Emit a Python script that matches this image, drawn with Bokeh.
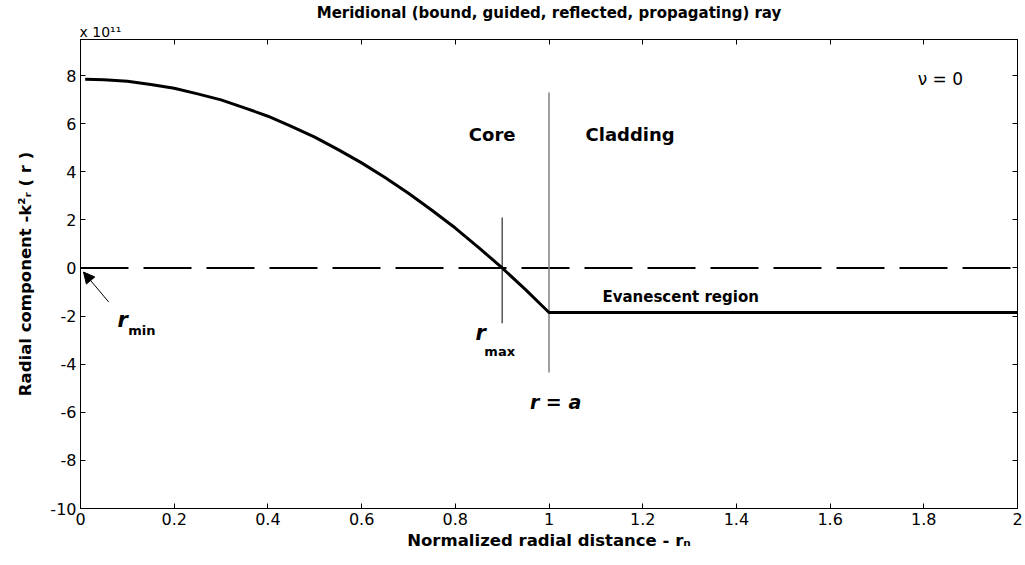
from bokeh.plotting import figure
from bokeh.models import (Range1d, LinearAxis, FixedTicker, Label, Arrow, NormalHead, Title)
from bokeh.embed import file_html
from bokeh.resources import INLINE

# ---- data (values in units of 1e11) ----
r_n = [0.01, 0.05, 0.1, 0.15, 0.2, 0.25, 0.3, 0.35, 0.4, 0.45, 0.5, 0.55, 0.6,
       0.65, 0.7, 0.75, 0.8, 0.85, 0.9, 0.95, 1.0, 2.0]
kr2 = [7.85, 7.83, 7.76, 7.63, 7.47, 7.24, 6.99, 6.66, 6.31, 5.89, 5.44, 4.92, 4.37,
       3.76, 3.11, 2.40, 1.66, 0.85, 0.0, -0.90, -1.85, -1.85]
zero_x = [0.0, 2.0]
zero_y = [0.0, 0.0]
rmax_x = [0.9, 0.9]
rmax_y = [2.1, -2.3]
ra_x = [1.0, 1.0]
ra_y = [7.3, -4.35]

x_ticks = [0, 0.2, 0.4, 0.6, 0.8, 1.0, 1.2, 1.4, 1.6, 1.8, 2.0]
x_tick_labels = ["0", "0.2", "0.4", "0.6", "0.8", "1", "1.2", "1.4", "1.6", "1.8", "2"]
y_ticks = [-10, -8, -6, -4, -2, 0, 2, 4, 6, 8]
y_tick_labels = ["-10", "-8", "-6", "-4", "-2", "0", "2", "4", "6", "8"]

FONT = "DejaVu Sans"

p = figure(frame_width=937, frame_height=469,
           x_range=Range1d(0, 2), y_range=Range1d(-10, 9.5),
           output_backend="svg", toolbar_location=None,
           min_border_left=80, min_border_right=7,
           min_border_top=39, min_border_bottom=49)
p.background_fill_color = "white"
p.border_fill_color = "white"
p.outline_line_color = "black"
p.outline_line_width = 1
p.xgrid.visible = False
p.ygrid.visible = False

def style_axis(ax, ticks, labels, show_labels=True):
    ax.ticker = FixedTicker(ticks=ticks)
    ax.major_label_overrides = {t: l for t, l in zip(ticks, labels)}
    ax.major_tick_in = 5
    ax.major_tick_out = 0
    ax.minor_tick_line_color = None
    ax.axis_line_color = "black"
    ax.major_tick_line_color = "black"
    ax.major_label_text_font = FONT
    ax.major_label_text_font_size = "16px" if show_labels else "0px"
    ax.major_label_text_color = "black"
    ax.major_label_standoff = 4

xa = p.xaxis[0]
ya = p.yaxis[0]
style_axis(xa, x_ticks, x_tick_labels)
style_axis(ya, y_ticks, y_tick_labels)
xa.axis_label = "Normalized radial distance - r\u2099"
ya.axis_label = "Radial component -k\u00b2\u1d63 ( r )"
for ax in (xa, ya):
    ax.axis_label_text_font = FONT
    ax.axis_label_text_font_size = "16.5px"
    ax.axis_label_text_font_style = "bold"
    ax.axis_label_text_color = "black"
xa.axis_label_standoff = 3
ya.axis_label_standoff = 12

top = LinearAxis()
right = LinearAxis()
style_axis(top, x_ticks, [""] * len(x_ticks), show_labels=False)
style_axis(right, y_ticks, [""] * len(y_ticks), show_labels=False)
top.major_label_standoff = 0
right.major_label_standoff = 0
p.add_layout(top, "above")
p.add_layout(right, "right")

# title rows above the frame
p.add_layout(Title(text="x 10\u00b9\u00b9", align="left", text_font=FONT,
                   text_font_size="14px", text_font_style="normal", text_color="black",
                   standoff=0, offset=-1), "above")
p.add_layout(Title(text="Meridional (bound, guided, reflected, propagating) ray",
                   align="center", text_font=FONT, text_font_size="15px",
                   text_font_style="bold", text_color="black", standoff=0), "above")

# ---- lines ----
p.line(zero_x, zero_y, line_color="black", line_width=2, line_dash="48 15")
p.line(rmax_x, rmax_y, line_color="black", line_width=1)
p.line(ra_x, ra_y, line_color="#808080", line_width=1.5)
p.line(r_n, kr2, line_color="black", line_width=3)

# ---- annotations ----
def lab(x, y, text, size, style="normal", align="left"):
    l = Label(x=x, y=y, text=text, text_font=FONT, text_font_size=size,
              text_font_style=style, text_color="black",
              text_align=align, text_baseline="alphabetic")
    p.add_layout(l)
    return l

lab(0.9285, 5.57, "Core", "18px", "bold", align="right")
lab(1.078, 5.57, "Cladding", "18px", "bold")
lab(1.114, -1.2, "Evanescent region", "15px", "bold")
lab(1.787, 7.86, "\u03bd = 0", "17px", "normal")

# r_min
lab(0.079, -2.16, "r", "21px", "bold italic")
lab(0.102, -2.58, "min", "13px", "bold")
# r_max
lab(0.843, -2.7, "r", "21px", "bold italic")
lab(0.862, -3.49, "max", "13px", "bold")
# r = a
lab(1.014, -5.57, "r = a", "19px", "bold italic", align="center")

p.add_layout(Arrow(end=NormalHead(size=11, fill_color="black", line_color="black"),
                   x_start=0.06, y_start=-1.41, x_end=0.0064, y_end=-0.17,
                   line_color="black", line_width=1))

open("out.html", "w").write(file_html(p, INLINE))
